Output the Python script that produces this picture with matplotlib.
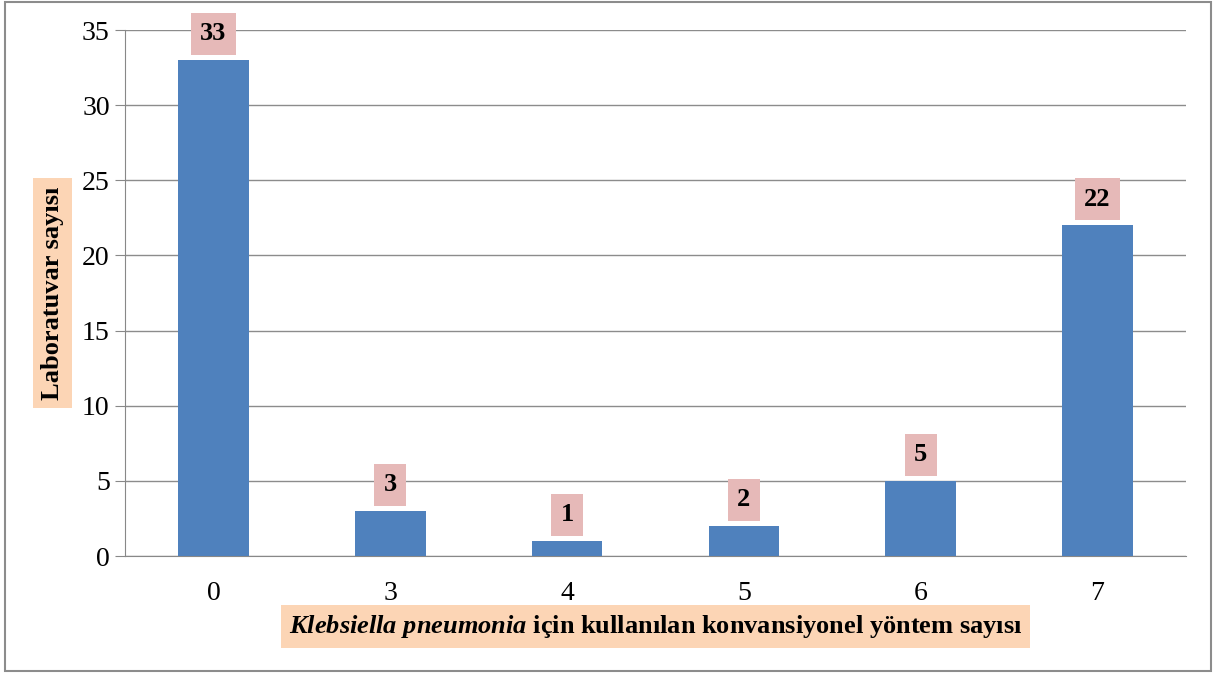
import matplotlib.pyplot as plt
from matplotlib.patches import Rectangle

# data
categories = ["0", "3", "4", "5", "6", "7"]
values = [33, 3, 1, 2, 5, 22]
y_ticks = [0, 5, 10, 15, 20, 25, 30, 35]

plt.rcParams['font.family'] = ['Liberation Serif', 'DejaVu Serif']
plt.rcParams['mathtext.fontset'] = 'custom'
plt.rcParams['mathtext.it'] = 'Liberation Serif:italic:bold'
plt.rcParams['mathtext.rm'] = 'Liberation Serif:bold'

fig = plt.figure(figsize=(12.16, 6.73), dpi=100)
ax = fig.add_axes([0.1028, 0.1738, 0.8725, 0.7816])

x = range(len(categories))
ax.bar(x, values, width=0.4, color="#4F81BD", zorder=3)

# value labels
for i, v in enumerate(values):
    ax.text(i, v + 1.75, str(v), ha="center", va="center", fontsize=19,
            fontweight="bold", zorder=4,
            bbox=dict(boxstyle="square,pad=0.36", fc="#E6B9B8", ec="none"))

ax.set_xlim(-0.5, len(categories) - 0.5)
ax.set_ylim(0, 35)
ax.set_yticks(y_ticks)
ax.set_xticks(list(x))
ax.set_xticklabels(categories)
ax.tick_params(axis="y", length=7, color="#888888", labelsize=20, pad=4)
ax.tick_params(axis="x", length=0, labelsize=20, pad=18)
ax.grid(axis="y", color="#8C8C8C", linewidth=1, zorder=0)
for s in ["top", "right"]:
    ax.spines[s].set_visible(False)
for s in ["left", "bottom"]:
    ax.spines[s].set_color("#888888")

ax.set_ylabel("Laboratuvar sayısı", fontsize=19, fontweight="bold", labelpad=13,
              bbox=dict(boxstyle="square,pad=0.3", fc="#FCD5B5", ec="none"))
ax.set_xlabel(r"$\mathit{Klebsiella\ pneumonia}$ için kullanılan konvansiyonel yöntem sayısı",
              fontsize=19, fontweight="bold", labelpad=5,
              bbox=dict(boxstyle="square,pad=0.3", fc="#FCD5B5", ec="none"))

# outer border
fig.patches.append(Rectangle((0.004, 0.003), 0.992, 0.994, transform=fig.transFigure,
                             fill=False, ec="#8C8C8C", lw=1.5))

plt.savefig("out.png", dpi=100)
